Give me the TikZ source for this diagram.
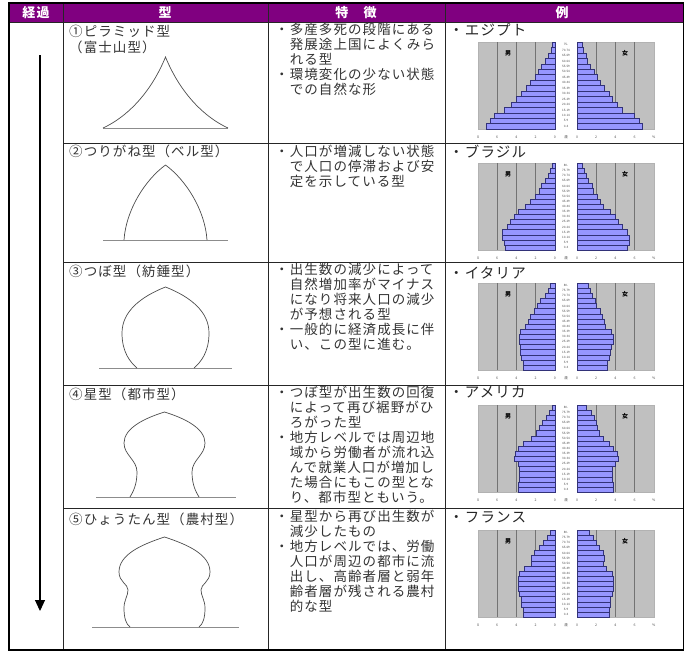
\documentclass[tikz,border=0pt]{standalone}
\usepackage{fontspec}
\setmainfont{Noto Sans CJK JP}
\newfontfamily\jp[LetterSpace=8]{Noto Sans CJK JP}
\usetikzlibrary{arrows.meta}
\definecolor{hdr}{RGB}{128,0,128}
\definecolor{panel}{RGB}{192,192,192}
\definecolor{barfill}{RGB}{150,150,255}
\definecolor{baredge}{RGB}{50,50,120}
\def\agesA{0-4,5-9,10-14,15-19,20-24,25-29,30-34,35-39,40-44,45-49,50-54,55-59,60-64,65-69,70-74,75-79,80-}
\def\agesE{0-4,5-9,10-14,15-19,20-24,25-29,30-34,35-39,40-44,45-49,50-54,55-59,60-64,65-69,70-74,75-}
\newcommand{\pyr}[6]{%
\path[panelbox] (478,#2) rectangle (555,#2+87);
\path[panelbox] (577,#2) rectangle (654,#2+87);
\foreach \g in {2,4,6} {
\draw[gridline] ({555-\g*9.6},#2) -- ++(0,87);
\draw[gridline] ({577+\g*9.6},#2) -- ++(0,87);
}
\foreach \v [count=\k from 0] in {#5}
\draw[popbar] (555,{#2+87-\k*#3}) rectangle ++({-\v*9.6},{-#3});
\foreach \v [count=\k from 0] in {#6}
\draw[popbar] (577,{#2+87-\k*#3}) rectangle ++({\v*9.6},{-#3});
\foreach \a [count=\k from 0] in #4
\node[agelbl] (#1-a\k) at (566,{#2+87-(\k+0.5)*#3}) {\a};
\node[sexlbl] (#1-m) at (508,#2+11) {男};
\node[sexlbl] (#1-f) at (625,#2+11) {女};
\foreach \t [count=\k from 0] in {8,6,4,2,0}
\node[ticklbl] (#1-l\k) at ({478+\k*19.2},#2+95) {\t};
\node[ticklbl] (#1-y) at (566,#2+95) {歳};
\foreach \t [count=\k from 0] in {0,2,4,6,\%}
\node[ticklbl] (#1-r\k) at ({577+\k*19.2},#2+95) {\t};
}
\begin{document}
\begin{tikzpicture}[x=1pt,y=-1pt,
  rule/.style={draw=black!85,line width=0.9pt},
  frame/.style={draw=black,line width=1.6pt},
  headtext/.style={font=\jp\bfseries\fontsize{13}{13}\selectfont,text=white,inner sep=0pt},
  typetitle/.style={anchor=north west,inner sep=0pt,font=\jp\fontsize{13.5}{16}\selectfont,text=black!80},
  desctext/.style={anchor=north west,align=left,inner sep=0pt,font=\jp\fontsize{13.5}{15}\selectfont,text=black!80},
  landtext/.style={anchor=north west,inner sep=0pt,font=\jp\fontsize{14.5}{15}\selectfont,text=black!85},
  shapeline/.style={draw=black!70,line width=0.7pt},
  groundline/.style={draw=black!45,line width=0.7pt},
  panelbox/.style={fill=panel,draw=black!30,line width=0.3pt},
  gridline/.style={draw=black!55,line width=0.7pt},
  popbar/.style={fill=barfill,draw=baredge,line width=0.3pt},
  agelbl/.style={font=\fontsize{3}{3}\selectfont,inner sep=0pt,text=black!70},
  sexlbl/.style={font=\jp\bfseries\fontsize{6}{6}\selectfont,inner sep=0pt},
  ticklbl/.style={font=\fontsize{3.5}{3.5}\selectfont,inner sep=0pt,text=black!70}]
\useasboundingbox (0,0) rectangle (684,654);
\fill[hdr] (9,3) rectangle (684,22);
\node[headtext] (hkeika) at (36,12.5) {経過};
\node[headtext] (hkata) at (165,12.5) {型};
\node[headtext] (htoku) at (356,12.5) {特　徴};
\node[headtext] (hrei) at (562,12.5) {例};
\draw[rule] (9,22) -- (684,22);
\foreach \r in {143,262,385,508} \draw[rule] (63,\r) -- (684,\r);
\foreach \c in {63,268,445} \draw[rule] (\c,3) -- (\c,650);
\draw[frame] (9,3) rectangle (684,650);

\coordinate (flowtop) at (40,55);
\coordinate (flowend) at (40,611);
\draw[line width=1.1pt,-{Triangle[width=10pt,length=11pt]}] (flowtop) -- (flowend);

\node[typetitle] (t1) at (69,25) {①ピラミッド型};
\node[typetitle] (t1b) at (69,41) {（富士山型）};
\node[typetitle] (t2) at (69,145) {②つりがね型（ベル型）};
\node[typetitle] (t3) at (69,265) {③つぼ型（紡錘型）};
\node[typetitle] (t4) at (69,388) {④星型（都市型）};
\node[typetitle] (t5) at (69,513) {⑤ひょうたん型（農村型）};

\draw[groundline] (103,128) -- (228,128);
\draw[shapeline] (103,128) .. controls (125,118) and (150,95) .. (165.5,57) .. controls (181,95) and (206,118) .. (228,128);
\draw[groundline] (103,240) -- (228,240);
\draw[shapeline] (124,240) .. controls (126,210) and (145,180) .. (165.5,165) .. controls (186,180) and (205,210) .. (207,240);
\draw[groundline] (99,368) -- (232,368);
\draw[shapeline] (137,368) .. controls (130,362) and (122,352) .. (122,333) .. controls (122,312) and (140,297) .. (165.5,287) .. controls (191,297) and (209,312) .. (209,333) .. controls (209,352) and (201,362) .. (194,368);
\draw[groundline] (96,497) -- (236,497);
\draw[shapeline] (130,497) .. controls (133,492) and (137,485) .. (137,472) .. controls (137,460) and (124,455) .. (124,443) .. controls (124,428) and (145,418) .. (164.5,412) .. controls (184,418) and (205,428) .. (205,443) .. controls (205,455) and (192,460) .. (192,472) .. controls (192,485) and (196,492) .. (199,497);
\draw[groundline] (92,627) -- (239,627);
\draw[shapeline] (130,627) .. controls (126,624) and (124,618) .. (124,608) .. controls (124,600) and (128,596) .. (128,590) .. controls (128,584) and (119,582) .. (119,572) .. controls (119,555) and (140,545) .. (164.5,537) .. controls (189,545) and (210,555) .. (210,572) .. controls (210,582) and (201,584) .. (201,590) .. controls (201,596) and (205,600) .. (205,608) .. controls (205,618) and (203,624) .. (199,627);

\node[desctext] (d1) at (275,23) {・多産多死の段階にある\\　発展途上国によくみら\\　れる型\\・環境変化の少ない状態\\　での自然な形};
\node[desctext] (d2) at (275,145) {・人口が増減しない状態\\　で人口の停滞および安\\　定を示している型};
\node[desctext] (d3) at (275,263) {・出生数の減少によって\\　自然増加率がマイナス\\　になり将来人口の減少\\　が予想される型\\・一般的に経済成長に伴\\　い、この型に進む。};
\node[desctext] (d4) at (275,386) {・つぼ型が出生数の回復\\　によって再び裾野がひ\\　ろがった型\\・地方レベルでは周辺地\\　域から労働者が流れ込\\　んで就業人口が増加し\\　た場合にもこの型とな\\　り、都市型ともいう。};
\node[desctext] (d5) at (275,510) {・星型から再び出生数が\\　減少したもの\\・地方レベルでは、労働\\　人口が周辺の都市に流\\　出し、高齢者層と弱年\\　齢者層が残される農村\\　的な型};

\node[landtext] (c1) at (449,23) {・エジプト};
\node[landtext] (c2) at (449,145) {・ブラジル};
\node[landtext] (c3) at (449,266) {・イタリア};
\node[landtext] (c4) at (449,386) {・アメリカ};
\node[landtext] (c5) at (449,511) {・フランス};

\pyr{egy}{42}{5.4375}{\agesE}{7.2,6.8,6.3,5.3,4.6,4.0,3.5,3.0,2.6,2.1,1.75,1.4,1.05,0.7,0.4,0.35}{6.8,6.5,6.0,4.7,4.2,3.7,3.3,2.8,2.45,2.1,1.75,1.4,1.05,0.9,0.6,0.5}
\pyr{bra}{163}{5.118}{\agesA}{5.2,5.3,5.5,5.5,5.0,4.65,4.3,3.8,3.1,2.6,2.1,1.7,1.4,1.0,0.7,0.5,0.35}{5.2,5.4,5.4,5.2,4.65,4.3,4.0,3.45,2.75,2.4,2.1,1.7,1.55,1.2,0.9,0.7,0.5}
\pyr{ita}{283}{5.118}{\agesA}{3.3,3.3,3.5,3.6,3.6,3.7,3.7,3.6,3.1,2.8,2.6,2.2,1.9,1.55,1.0,0.7,0.5}{3.1,3.1,3.3,3.45,3.6,3.8,3.8,3.6,2.9,2.8,2.6,2.4,2.0,1.9,1.55,1.4,1.2}
\pyr{usa}{405}{5.118}{\agesA}{3.8,3.8,3.7,3.7,3.7,3.8,4.3,4.2,3.8,3.3,2.5,2.0,1.65,1.3,0.9,0.65,0.35}{3.8,3.8,3.7,3.7,3.7,4.0,4.3,4.2,3.8,3.3,2.7,2.3,2.1,2.0,1.8,1.5,1.0}
\pyr{fra}{530}{5.118}{\agesA}{3.3,3.3,3.5,3.5,3.7,3.8,3.8,3.8,3.7,3.2,2.5,2.5,2.2,1.7,1.2,0.8,0.5}{3.3,3.3,3.5,3.5,3.7,3.8,3.8,3.8,3.7,3.0,2.7,2.8,2.7,2.3,2.0,1.7,1.3}
\end{tikzpicture}
\end{document}
